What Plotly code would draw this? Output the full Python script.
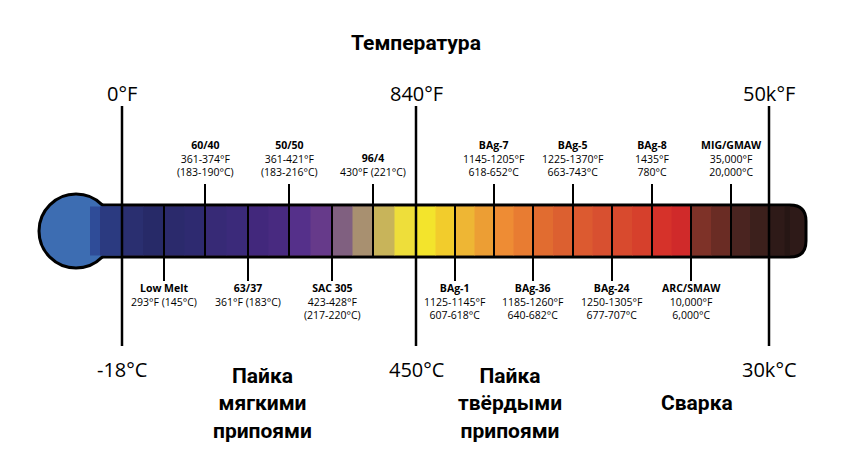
import plotly.graph_objects as go

W, H = 863, 459

# scale marks
major_top = ["0°F", "840°F", "50k°F"]
major_bottom = ["-18°C", "450°C", "30k°C"]
major_x = [122, 416, 769]

top_names = ["60/40", "50/50", "96/4", "BAg-7", "BAg-5", "BAg-8", "MIG/GMAW"]
top_line1 = ["361-374°F", "361-421°F", "", "1145-1205°F", "1225-1370°F", "1435°F", "35,000°F"]
top_line2 = ["(183-190°C)", "(183-216°C)", "430°F (221°C)", "618-652°C", "663-743°C", "780°C", "20,000°C"]
top_x = [205, 289, 373, 494, 573, 652, 731]

bot_names = ["Low Melt", "63/37", "SAC 305", "BAg-1", "BAg-36", "BAg-24", "ARC/SMAW"]
bot_line1 = ["293°F (145°C)", "361°F (183°C)", "423-428°F", "1125-1145°F", "1185-1260°F", "1250-1305°F", "10,000°F"]
bot_line2 = ["", "", "(217-220°C)", "607-618°C", "640-682°C", "677-707°C", "6,000°C"]
bot_x = [164, 248, 332, 455, 533, 612, 691]

seg_edges = [122, 164, 205, 248, 289, 332, 373, 416, 455, 494, 533, 573, 612, 652, 691, 731, 769, 800]
seg_colors = [("#2a2f70", "#272a68"), ("#2b2a6c", "#2e2a70"), ("#372a76", "#3b2a7a"),
              ("#42287c", "#482a80"), ("#55308a", "#663a8a"), ("#806080", "#a89070"),
              ("#c8b45a", "#eede3a"), ("#f3e42c", "#f2cc2c"), ("#eeb634", "#ec9e34"),
              ("#ee8c34", "#e87c32"), ("#e16c30", "#dc6030"), ("#dc5a30", "#d85030"),
              ("#d84a2e", "#d6402c"), ("#d6322a", "#d02a2a"), ("#7e3228", "#6a2c24"),
              ("#4a2420", "#3c201c"), ("#2e1a18", "#261614")]

groups = ["Пайка<br>мягкими<br>припоями", "Пайка<br>твёрдыми<br>припоями", "Сварка"]
group_x = [262, 510, 697]
group_y = [403, 403, 403]

Y0, Y1 = 205, 257  # bar top / bottom
OFF = 8  # page body margin

fig = go.Figure()
shapes = []

# outline of the bar with rounded right end and the bulb
shapes.append(dict(type="path", path=f"M 76,{Y0} L 790,{Y0} Q 806,{Y0} 806,{Y0+16} L 806,{Y1-16} Q 806,{Y1} 790,{Y1} L 76,{Y1} Z",
                   fillcolor="#2e1a18", line=dict(color="black", width=3)))
shapes.append(dict(type="circle", x0=39, x1=113, y0=194, y1=268, fillcolor="#3d6db2",
                   line=dict(color="black", width=3)))
shapes.append(dict(type="rect", x0=90, x1=123, y0=Y0 + 1.5, y1=Y1 - 1.5, fillcolor="#2f4c98", line_width=0))
shapes.append(dict(type="rect", x0=100, x1=123, y0=Y0 + 1.5, y1=Y1 - 1.5, fillcolor="#2b3a80", line_width=0))

# coloured segments (two halves for a light gradient)
for i, (c1, c2) in enumerate(seg_colors):
    a, b = seg_edges[i], seg_edges[i + 1]
    m = (a + b) / 2
    right = b + 0.6 if i < len(seg_colors) - 1 else 790
    shapes.append(dict(type="rect", x0=a, x1=m + 0.6, y0=Y0 + 1.5, y1=Y1 - 1.5, fillcolor=c1, line_width=0))
    shapes.append(dict(type="rect", x0=m, x1=right, y0=Y0 + 1.5, y1=Y1 - 1.5, fillcolor=c2, line_width=0))

# ticks
for x in top_x:
    shapes.append(dict(type="line", x0=x, x1=x, y0=184, y1=Y1, line=dict(color="black", width=2)))
for x in bot_x:
    shapes.append(dict(type="line", x0=x, x1=x, y0=Y0, y1=281, line=dict(color="black", width=2)))
for x in major_x:
    shapes.append(dict(type="line", x0=x, x1=x, y0=106, y1=346, line=dict(color="black", width=2.5)))

ann = []
font_b = dict(family="Open Sans", size=10.5, color="black")
for x, n, l1, l2 in zip(top_x, top_names, top_line1, top_line2):
    txt = f"<b>{n}</b><br>{l1}<br>{l2}" if l1 else f"<b>{n}</b><br>{l2}"
    ann.append(dict(x=x, y=181, text=txt, showarrow=False, yanchor="bottom", font=font_b))
for x, n, l1, l2 in zip(bot_x, bot_names, bot_line1, bot_line2):
    txt = f"<b>{n}</b><br>{l1}" + (f"<br>{l2}" if l2 else "")
    ann.append(dict(x=x, y=279, text=txt, showarrow=False, yanchor="top", font=font_b))

for x, t, b in zip(major_x, major_top, major_bottom):
    ann.append(dict(x=x, y=93, text=t, showarrow=False, font=dict(family="Open Sans", size=20, color="black")))
    ann.append(dict(x=x, y=369, text=b, showarrow=False, font=dict(family="Open Sans", size=20, color="black")))

for x, y, g in zip(group_x, group_y, groups):
    ann.append(dict(x=x, y=y, text=f"<b>{g}</b>", showarrow=False,
                    font=dict(family="Roboto", size=21, color="black")))

ann.append(dict(x=416, y=43, text="<b>Температура</b>", showarrow=False,
                font=dict(family="Roboto", size=21, color="black")))

fig.update_layout(
    width=W, height=H, margin=dict(l=0, r=0, t=0, b=0),
    paper_bgcolor="white", plot_bgcolor="white",
    xaxis=dict(range=[OFF, W + OFF], visible=False, fixedrange=True),
    yaxis=dict(range=[H + OFF, OFF], visible=False, fixedrange=True),
    shapes=shapes, annotations=ann, showlegend=False,
)

fig.write_html("out.html")
